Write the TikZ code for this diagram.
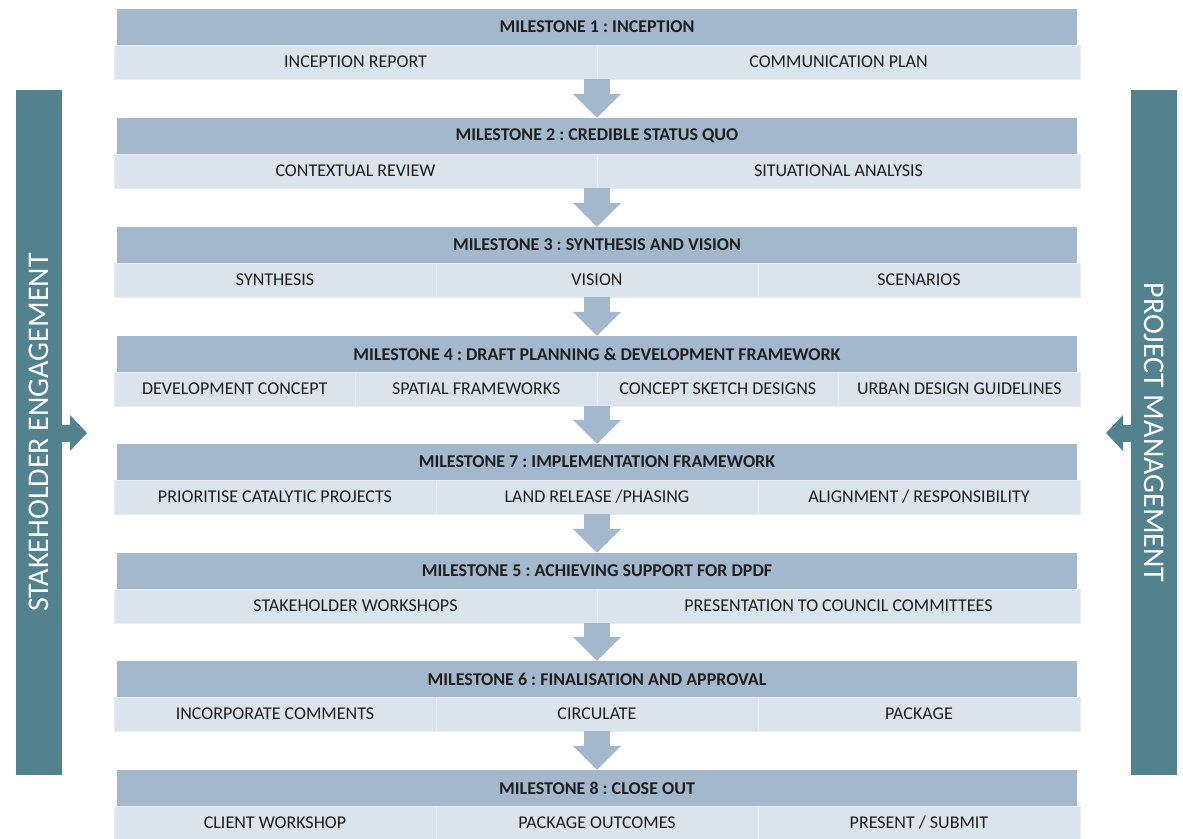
\documentclass[tikz,border=0pt]{standalone}
\usepackage{fontspec}
\setmainfont{Carlito}
\usetikzlibrary{arrows.meta}
\frenchspacing

\definecolor{headblue}{HTML}{A3B8CD}
\definecolor{subblue}{HTML}{DBE3EC}
\definecolor{sideteal}{HTML}{51828E}
\definecolor{inkgray}{HTML}{1E1E1E}

\tikzset{
    milehead/.style={fill=headblue, minimum width=960pt, minimum height=36pt, inner sep=0pt,
        text=inkgray, font=\fontsize{18}{21}\selectfont\bfseries},
    subbar/.style={fill=subblue, minimum width=966pt, minimum height=34pt, inner sep=0pt},
    subcell/.style={draw=white!35!subblue, line width=0.8pt, fill=subblue, minimum height=34pt,
        inner sep=0pt, text=inkgray, font=\fontsize{18}{21}\selectfont},
    downarrow/.style={draw=headblue, line width=26pt, -{Triangle[width=47pt,length=24pt]}},
    sidebar/.style={fill=sideteal, minimum width=46pt, minimum height=685pt, inner sep=0pt,
        text=white, font=\fontsize{30}{33}\selectfont},
    sidearrow/.style={draw=sideteal, line width=17pt, -{Triangle[width=35pt,length=17pt]}}
}

\begin{document}
\begin{tikzpicture}[x=1pt, y=-1pt]
    \useasboundingbox (0,0) rectangle (1183,838);

    % side bars
    \node[sidebar] (lb) at (39,432.5) {\rotatebox{90}{STAKEHOLDER ENGAGEMENT}};
    \node[sidebar] (rb) at (1154,432.5) {\rotatebox{-90}{PROJECT MANAGEMENT}};
    \coordinate (lt) at (87,433);  \coordinate (rt) at (1106,433);
    \draw[sidearrow] (lb.east |- lt) -- (lt);
    \draw[sidearrow] (rb.west |- rt) -- (rt);

    % milestone 1
    \node[milehead] (m1) at (597,27) {MILESTONE 1 : INCEPTION};
    \node[subbar] (m1s) at (597,62) {};
    \node[subcell, minimum width=483pt] (m1a) at (355.5,62) {INCEPTION REPORT};
    \node[subcell, minimum width=483pt] (m1b) at (838.5,62) {COMMUNICATION PLAN};

    % milestone 2
    \node[milehead] (m2) at (597,136) {MILESTONE 2 : CREDIBLE STATUS QUO};
    \node[subbar] (m2s) at (597,171) {};
    \node[subcell, minimum width=483pt] (m2a) at (355.5,171) {CONTEXTUAL REVIEW};
    \node[subcell, minimum width=483pt] (m2b) at (838.5,171) {SITUATIONAL ANALYSIS};

    % milestone 3
    \node[milehead] (m3) at (597,245) {MILESTONE 3 : SYNTHESIS AND VISION};
    \node[subbar] (m3s) at (597,280) {};
    \node[subcell, minimum width=322pt] (m3a) at (275,280) {SYNTHESIS};
    \node[subcell, minimum width=322pt] (m3b) at (597,280) {VISION};
    \node[subcell, minimum width=322pt] (m3c) at (919,280) {SCENARIOS};

    % milestone 4
    \node[milehead] (m4) at (597,354) {MILESTONE 4 : DRAFT PLANNING \& DEVELOPMENT FRAMEWORK};
    \node[subbar] (m4s) at (597,389) {};
    \node[subcell, minimum width=241.5pt] (m4a) at (234.75,389) {DEVELOPMENT CONCEPT};
    \node[subcell, minimum width=241.5pt] (m4b) at (476.25,389) {SPATIAL FRAMEWORKS};
    \node[subcell, minimum width=241.5pt] (m4c) at (717.75,389) {CONCEPT SKETCH DESIGNS};
    \node[subcell, minimum width=241.5pt] (m4d) at (959.25,389) {URBAN DESIGN GUIDELINES};

    % milestone 7
    \node[milehead] (m7) at (597,462) {MILESTONE 7 : IMPLEMENTATION FRAMEWORK};
    \node[subbar] (m7s) at (597,497) {};
    \node[subcell, minimum width=322pt] (m7a) at (275,497) {PRIORITISE CATALYTIC PROJECTS};
    \node[subcell, minimum width=322pt] (m7b) at (597,497) {LAND RELEASE /PHASING};
    \node[subcell, minimum width=322pt] (m7c) at (919,497) {ALIGNMENT / RESPONSIBILITY};

    % milestone 5
    \node[milehead] (m5) at (597,571) {MILESTONE 5 : ACHIEVING SUPPORT FOR DPDF};
    \node[subbar] (m5s) at (597,606) {};
    \node[subcell, minimum width=483pt] (m5a) at (355.5,606) {STAKEHOLDER WORKSHOPS};
    \node[subcell, minimum width=483pt] (m5b) at (838.5,606) {PRESENTATION TO COUNCIL COMMITTEES};

    % milestone 6
    \node[milehead] (m6) at (597,679) {MILESTONE 6 : FINALISATION AND APPROVAL};
    \node[subbar] (m6s) at (597,714) {};
    \node[subcell, minimum width=322pt] (m6a) at (275,714) {INCORPORATE COMMENTS};
    \node[subcell, minimum width=322pt] (m6b) at (597,714) {CIRCULATE};
    \node[subcell, minimum width=322pt] (m6c) at (919,714) {PACKAGE};

    % milestone 8
    \node[milehead] (m8) at (597,788) {MILESTONE 8 : CLOSE OUT};
    \node[subbar] (m8s) at (597,823) {};
    \node[subcell, minimum width=322pt] (m8a) at (275,823) {CLIENT WORKSHOP};
    \node[subcell, minimum width=322pt] (m8b) at (597,823) {PACKAGE OUTCOMES};
    \node[subcell, minimum width=322pt] (m8c) at (919,823) {PRESENT / SUBMIT};

    % flow arrows
    \draw[downarrow] (m1s) -- (m2);
    \draw[downarrow] (m2s) -- (m3);
    \draw[downarrow] (m3s) -- (m4);
    \draw[downarrow] (m4s) -- (m7);
    \draw[downarrow] (m7s) -- (m5);
    \draw[downarrow] (m5s) -- (m6);
    \draw[downarrow] (m6s) -- (m8);
\end{tikzpicture}
\end{document}
